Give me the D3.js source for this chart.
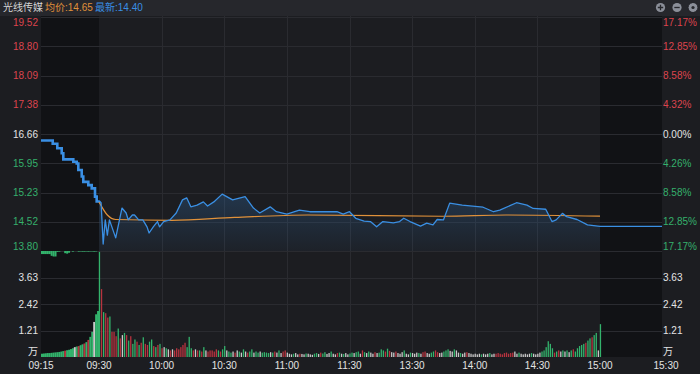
<!DOCTYPE html>
<html><head><meta charset="utf-8">
<script src="https://cdn.jsdelivr.net/npm/d3@7/dist/d3.min.js"></script>
<style>html,body{margin:0;padding:0;background:#1c1d21;overflow:hidden}</style>
</head><body><svg id="c" width="700" height="374"></svg>
<script>
// ---------------- DATA ----------------
const stockName = "光线传媒";
const avgLabel = "均价:14.65";
const lastLabel = "最新:14.40";
const prevClose = 16.66;
const priceTicks = [19.52, 18.80, 18.09, 17.38, 16.66, 15.95, 15.23, 14.52, 13.80];
const pctTicks = ["17.17%", "12.85%", "8.58%", "4.32%", "0.00%", "4.26%", "8.58%", "12.85%", "17.17%"];
const volTicks = [3.63, 2.42, 1.21];
const timeTicks = ["09:15", "09:30", "10:00", "10:30", "11:00", "11:30", "13:30", "14:00", "14:30", "15:00", "15:30"];

// call auction (09:15 - 09:30)
const preTimes = ["09:15:00","09:17:35","09:18:02","09:19:04","09:19:13","09:19:55","09:20:21","09:20:46","09:23:21","09:24:14","09:24:39","09:25:32","09:25:56","09:27:14","09:28:07","09:28:58","09:29:24","09:30:00"];
const prePrices = [16.50,16.50,16.42,16.42,16.31,16.31,16.19,16.04,15.98,15.94,15.78,15.62,15.49,15.41,15.33,15.13,15.01,15.03];

// intraday price
const times = ["09:30","09:31","09:32","09:33","09:34","09:35","09:38","09:41","09:43","09:44","09:46","09:47","09:49","09:51","09:53","09:54","09:56","09:58","09:59","10:01","10:04","10:07","10:10","10:12","10:14","10:17","10:20","10:22","10:25","10:29","10:34","10:40","10:44","10:47","10:52","10:55","11:00","11:06","11:11","11:19","11:24","11:27","11:30","13:03","13:07","13:10","13:13","13:16","13:21","13:24","13:26","13:29","13:34","13:37","13:40","13:42","13:45","13:48","13:54","14:04","14:09","14:12","14:20","14:25","14:28","14:34","14:37","14:39","14:42","14:44","14:49","14:54","15:00"];
const prices = [15.03,14.98,13.97,14.56,14.19,14.56,14.12,14.85,14.73,14.56,14.68,14.68,14.56,14.56,14.39,14.24,14.39,14.52,14.39,14.52,14.56,14.73,15.05,15.10,14.88,14.92,15.00,14.90,15.00,15.19,15.05,15.13,14.85,14.73,14.88,14.76,14.70,14.80,14.76,14.76,14.76,14.70,14.76,14.60,14.53,14.52,14.39,14.52,14.49,14.52,14.60,14.52,14.41,14.48,14.44,14.57,14.56,14.97,14.92,14.87,14.76,14.80,14.98,14.92,14.84,14.82,14.52,14.56,14.72,14.64,14.57,14.44,14.40];
const afterTimes = ["15:00","15:30"];
const afterPrices = [14.40, 14.40];

// average price
const avgTimes = ["09:30","09:34","09:38","10:05","10:35","11:10","13:45","14:15","15:00"];
const avgPrices = [15.00,14.68,14.57,14.55,14.62,14.68,14.65,14.68,14.65];

// auction volume (every 30 s, 万)
const preVol = [0.15,0.16,0.17,0.18,0.18,0.19,0.20,0.21,0.22,0.23,0.25,0.27,0.29,0.31,0.33,0.36,0.40,0.45,0.48,0.50,0.54,0.58,0.62,0.68,0.78,0.92,1.15,1.60,1.95,2.10];
const preVolDir = "ggggggggggggrggggwgrggrgrggwgg";
const auctionUnmatched = [0.14,0.14,0.14,0.14,0.14,0.22,0.25,0.25,0.04,0.03,0,0,0.10,0.12,0.08,0,0.03,0,0,0.03,0.02,0.03,0.03,0.02,0.03,0.02,0.02,0.03,0.02,0];

// per-minute volume 09:30-11:30, 13:01-15:00 (万)
const vol = [
4.80,3.10,2.05,2.00,1.80,1.85,1.15,1.15,0.95,1.30,0.85,1.00,1.10,1.00,0.75,0.95,0.60,0.80,0.70,0.55,0.65,0.90,0.60,0.55,0.70,0.80,0.50,0.45,0.55,0.60,0.40,
0.45,0.40,0.35,0.30,0.35,0.30,0.40,0.35,0.45,0.55,0.65,0.45,0.92,0.40,0.30,0.35,0.30,0.30,0.25,0.45,0.30,0.25,0.30,0.30,0.25,0.35,0.30,0.25,0.35,0.50,
0.30,0.25,0.20,0.25,0.20,0.30,0.25,0.20,0.35,0.25,0.20,0.25,0.35,0.20,0.25,0.20,0.25,0.20,0.22,0.20,0.18,0.22,0.20,0.25,0.20,0.30,0.18,0.25,0.30,0.20,
0.15,0.12,0.15,0.18,0.12,0.15,0.14,0.12,0.16,0.15,0.12,0.10,0.15,0.18,0.14,0.20,0.16,0.22,0.14,0.18,0.25,0.15,0.12,0.18,0.20,0.15,0.14,0.18,0.12,0.16,
0.20,0.18,0.22,0.25,0.15,0.30,0.22,0.18,0.25,0.20,0.15,0.22,0.18,0.20,0.35,0.30,0.25,0.38,0.28,0.22,0.20,0.25,0.18,0.15,0.22,0.30,0.15,0.12,0.20,0.18,
0.15,0.20,0.18,0.15,0.22,0.25,0.18,0.15,0.20,0.25,0.30,0.22,0.18,0.20,0.25,0.30,0.35,0.28,0.25,0.35,0.30,0.20,0.18,0.15,0.20,0.22,0.18,0.15,0.12,0.15,
0.12,0.15,0.12,0.15,0.12,0.15,0.18,0.12,0.15,0.15,0.18,0.15,0.12,0.18,0.20,0.15,0.18,0.20,0.25,0.15,0.20,0.15,0.12,0.15,0.12,0.15,0.18,0.15,0.12,0.15,
0.20,0.25,0.30,0.45,0.72,0.60,0.40,0.20,0.25,0.30,0.25,0.30,0.25,0.30,0.22,0.30,0.35,0.25,0.40,0.50,0.55,0.60,0.65,0.75,0.85,0.90,1.00,1.10,0.30,1.50];
const volDir =
"grgrrgrrrgrwgrgrggrgrgrrggrgrgr" +
"wgwrwrrrrrrgggrwrgrgwrrrrrgrgg" +
"wggwrwgwgwrggwggwggggwgrwgwrrw" +
"wwgwwrwwgwwwggwrggwwgwwrgwgwwg" +
"gwggwrgwgwwrwgggrgrwwrwwwgwwgw" +
"wwgwrrwwggrrwwgggwwgwwgwwrwwww" +
"wwgwwwgwwrrrrrrrrrwwgwwwwwgwww" +
"wggggggrgrwgwgwgrgggggrggrggwg";

// ---------------- DRAW ----------------
const C = {bg:"#1c1d21", dark:"#111215", head:"#26272c", grid:"#2a2b30",
  red:"#dc444e", green:"#35b06c", white:"#e4e4e4", blue:"#3a8fe3", orange:"#e0913a",
  vg:"#33b36c", vr:"#b8333f", vw:"#c9c9c9"};
const FONT = "'Helvetica Neue', Arial, 'Liberation Sans', 'Noto Sans CJK SC', sans-serif";

function tm(s) {
  const p = s.split(":").map(Number);
  const mins = p[0]*60 + p[1] + (p[2]||0)/60;
  if (mins <= 690) return mins - 570;
  if (mins < 780) return 120;
  if (mins <= 900) return 120 + (mins - 780);
  return 240 + (mins - 900);
}

const svg = d3.select("#c").style("font-family", FONT);
const x = d3.scaleLinear().domain([-15, 0, 240, 270]).range([41, 99, 600, 662]);
const y = d3.scaleLinear().domain([13.80, 19.52]).range([251, 17]);
const yv = d3.scaleLinear().domain([0, 4.84]).range([357, 251]);

svg.append("rect").attr("width", 700).attr("height", 374).attr("fill", C.bg);
svg.append("rect").attr("width", 700).attr("height", 16).attr("fill", C.head);
// darker pre / post sessions
svg.append("rect").attr("x", x(-15)).attr("y", 16).attr("width", x(0) - x(-15)).attr("height", yv(0) - 16).attr("fill", C.dark);
svg.append("rect").attr("x", x(240)).attr("y", 16).attr("width", x(270) - x(240)).attr("height", yv(0) - 16).attr("fill", C.dark);

// grid
const g = svg.append("g").attr("stroke", C.grid).attr("stroke-width", 1).attr("shape-rendering", "crispEdges");
priceTicks.forEach(p => g.append("line").attr("x1", x(-15)).attr("x2", x(270)).attr("y1", Math.round(y(p))+0.5).attr("y2", Math.round(y(p))+0.5));
volTicks.forEach(v => g.append("line").attr("x1", x(-15)).attr("x2", x(270)).attr("y1", Math.round(yv(v))+0.5).attr("y2", Math.round(yv(v))+0.5));
timeTicks.slice(2, 9).forEach(t => g.append("line").attr("x1", Math.round(x(tm(t)))+0.5).attr("x2", Math.round(x(tm(t)))+0.5).attr("y1", 16).attr("y2", yv(0)));

// area fill under price
const defs = svg.append("defs");
const grad = defs.append("linearGradient").attr("id", "fillg").attr("x1", 0).attr("y1", 0).attr("x2", 0).attr("y2", 1)
  .attr("gradientUnits", "userSpaceOnUse").attr("y1", y(15.2)).attr("y2", y(13.80));
grad.append("stop").attr("offset", 0).attr("stop-color", "#3a8fe3").attr("stop-opacity", 0.22);
grad.append("stop").attr("offset", 1).attr("stop-color", "#3a8fe3").attr("stop-opacity", 0.04);
const mainPts = times.map((t, i) => [tm(t), prices[i]]);
svg.append("path").datum(mainPts)
  .attr("d", d3.area().x(d => x(d[0])).y0(y(13.80)).y1(d => y(d[1])))
  .attr("fill", "url(#fillg)");

// volume bars
const dirColor = c => c === "g" ? C.vg : c === "r" ? C.vr : C.vw;
svg.append("g").selectAll("rect").data(preVol).join("rect")
  .attr("x", (d, k) => x(-15 + 0.5*k)).attr("width", (x(0) - x(-15)) / 30 + 0.05)
  .attr("y", d => yv(d)).attr("height", d => yv(0) - yv(d))
  .attr("fill", (d, k) => dirColor(preVolDir[k]));
svg.append("g").selectAll("rect").data(auctionUnmatched).join("rect")
  .attr("x", (d, k) => x(-15 + 0.5*k)).attr("width", (x(0) - x(-15)) / 30 + 0.05)
  .attr("y", yv(4.84)).attr("height", d => yv(0) - yv(d))
  .attr("fill", C.vg);
svg.append("g").selectAll("rect").data(vol).join("rect")
  .attr("x", (d, i) => x(i) - 0.2).attr("width", 1.3)
  .attr("y", d => yv(d)).attr("height", d => yv(0) - yv(d))
  .attr("fill", (d, i) => dirColor(volDir[i]));

// price lines
const line = d3.line().x(d => x(d[0])).y(d => y(d[1]));
svg.append("path").datum(preTimes.map((t, i) => [tm(t), prePrices[i]]))
  .attr("d", line.curve(d3.curveStepAfter)).attr("fill", "none").attr("stroke", C.blue).attr("stroke-width", 2.6);
const line2 = d3.line().x(d => x(d[0])).y(d => y(d[1]));
svg.append("path").datum(avgTimes.map((t, i) => [tm(t), avgPrices[i]]))
  .attr("d", line2.curve(d3.curveMonotoneX)).attr("fill", "none").attr("stroke", C.orange).attr("stroke-width", 1.2);
svg.append("path").datum(mainPts)
  .attr("d", d3.line().x(d => x(d[0])).y(d => y(d[1]))).attr("fill", "none").attr("stroke", C.blue).attr("stroke-width", 1.3).attr("stroke-linejoin", "round");
svg.append("path").datum(afterTimes.map((t, i) => [tm(t), afterPrices[i]]))
  .attr("d", d3.line().x(d => x(d[0])).y(d => y(d[1]))).attr("fill", "none").attr("stroke", C.blue).attr("stroke-width", 1.3);

// axis labels
const colFor = p => p > prevClose ? C.red : p < prevClose ? C.green : C.white;
const lbl = svg.append("g").attr("font-size", 10).attr("dominant-baseline", "central");
priceTicks.forEach((p, i) => {
  const yy = i === 0 ? y(p) + 5 : i === priceTicks.length - 1 ? y(p) - 4.5 : y(p);
  lbl.append("text").attr("x", 38).attr("y", yy).attr("text-anchor", "end").attr("fill", colFor(p)).text(p.toFixed(2));
  lbl.append("text").attr("x", 663).attr("y", yy).attr("fill", colFor(p)).text(pctTicks[i]);
});
volTicks.forEach(v => {
  lbl.append("text").attr("x", 38).attr("y", yv(v)).attr("text-anchor", "end").attr("fill", C.white).text(v.toFixed(2));
  lbl.append("text").attr("x", 663).attr("y", yv(v)).attr("fill", C.white).text(v.toFixed(2));
});
lbl.append("text").attr("x", 38).attr("y", 351).attr("text-anchor", "end").attr("fill", C.white).text("万");
lbl.append("text").attr("x", 663).attr("y", 351).attr("fill", C.white).text("万");
timeTicks.forEach((t, i) => {
  const xx = x(tm(t)) + (i === timeTicks.length - 1 ? 4 : 0);
  lbl.append("text").attr("x", xx).attr("y", 365).attr("text-anchor", "middle").attr("fill", C.white).text(t);
});

// header
const hd = svg.append("g").attr("font-size", 10).attr("dominant-baseline", "central");
hd.append("text").attr("x", 3).attr("y", 7.5).attr("fill", "#d6d6d6").text(stockName);
hd.append("text").attr("x", 45).attr("y", 7.5).attr("fill", C.orange).text(avgLabel);
hd.append("text").attr("x", 95).attr("y", 7.5).attr("fill", C.blue).text(lastLabel);

// icons
const ic = svg.append("g");
[660.5, 677, 693].forEach(cx => ic.append("circle").attr("cx", cx).attr("cy", 7.5).attr("r", 4.6).attr("fill", "#8b8f99"));
ic.append("path").attr("d", "M657.8,7.5H663.2M660.5,4.8V10.2").attr("stroke", C.head).attr("stroke-width", 1.3);
ic.append("path").attr("d", "M674.3,7.5H679.7").attr("stroke", C.head).attr("stroke-width", 1.3);
ic.append("circle").attr("cx", 693).attr("cy", 7.5).attr("r", 1.6).attr("fill", C.head);
ic.append("circle").attr("cx", 693).attr("cy", 7.5).attr("r", 5.2).attr("fill", "none").attr("stroke", C.head).attr("stroke-width", 1.4).attr("stroke-dasharray", "1.4 1.3");
</script></body></html>
